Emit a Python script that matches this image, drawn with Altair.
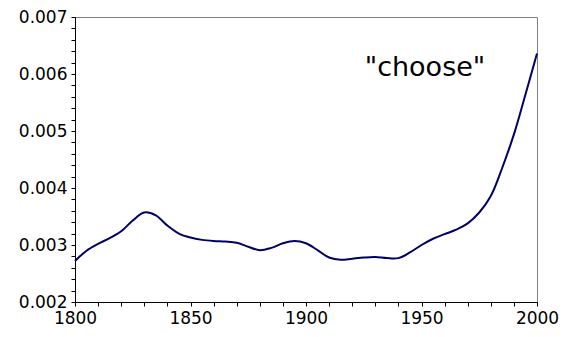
import altair as alt
import pandas as pd

years = list(range(1800, 2001, 5))
freq = [0.00272, 0.00290, 0.00302, 0.00312, 0.00324, 0.00343, 0.00357, 0.00352,
        0.00334, 0.00320, 0.00313, 0.00309, 0.00307, 0.00306, 0.00304, 0.00297,
        0.00291, 0.00295, 0.00303, 0.00307, 0.00303, 0.00291, 0.00278, 0.00274,
        0.00276, 0.00278, 0.00279, 0.00277, 0.00277, 0.00287, 0.00300, 0.00311,
        0.00319, 0.00327, 0.00338, 0.00357, 0.00386, 0.00436, 0.00494, 0.00564,
        0.00636]
word = ['"choose"']
word_year = [1951.5]
word_value = [0.00597]

x_ticks = list(range(1800, 2001, 10))
y_ticks = [round(0.002 + 0.0002 * i, 4) for i in range(26)]

df = pd.DataFrame({"year": years, "freq": freq})
lab = pd.DataFrame({"t": word, "year": word_year, "freq": word_value})

xs = alt.Scale(domain=[1800, 2000], nice=False, zero=False)
ys = alt.Scale(domain=[0.002, 0.007], nice=False, zero=False)

xa = alt.Axis(values=x_ticks, title=None, grid=False,
              labelExpr="datum.value % 50 == 0 ? format(datum.value, 'd') : ''",
              labelOverlap=False, labelFlush=False)
ya = alt.Axis(values=y_ticks, title=None, grid=False,
              labelExpr="abs(datum.value*1000 - round(datum.value*1000)) < 1e-6 ? format(datum.value, '.3f') : ''",
              labelOverlap=False, labelFlush=False)

line = alt.Chart(df).mark_line(color="#000066", strokeWidth=2, interpolate="catmull-rom").encode(
    x=alt.X("year:Q", scale=xs, axis=xa),
    y=alt.Y("freq:Q", scale=ys, axis=ya),
)

text = alt.Chart(lab).mark_text(fontSize=27, font="DejaVu Sans", color="black",
                                align="center", baseline="alphabetic").encode(
    x=alt.X("year:Q", scale=xs, axis=xa), y=alt.Y("freq:Q", scale=ys, axis=ya), text="t:N")

chart = (line + text).properties(
    width=462, height=285,
    autosize=alt.AutoSizeParams(type="none"),
    padding={"left": 75, "top": 17, "right": 35, "bottom": 35},
).configure_view(stroke="#808080", strokeWidth=1).configure_axis(
    domainColor="black", domainWidth=1, tickColor="black", tickSize=4,
    labelFont="DejaVu Sans", labelFontSize=17, labelColor="black", labelPadding=4,
)

chart.save("out.html", embed_options={"renderer": "svg", "actions": False})
